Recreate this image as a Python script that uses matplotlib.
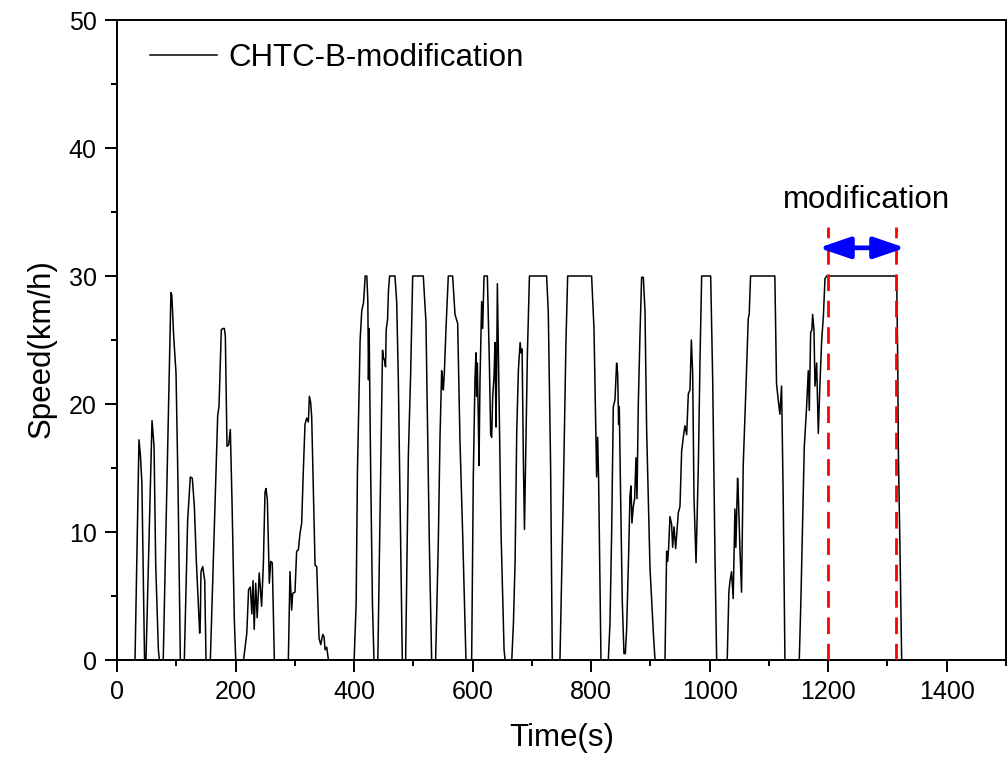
import matplotlib
matplotlib.use("Agg")
import matplotlib.pyplot as plt
from matplotlib.ticker import MultipleLocator

plt.rcParams['font.family'] = ['Liberation Sans', 'DejaVu Sans']

# ---- data ----
time_s = [
    0, 30.4, 37.1, 39.5, 42, 46.5,
    48.9, 59.1, 62.5, 65.3, 69.8, 71.5,
    78, 91, 92.5, 95.6, 99.6, 103, 106.9,
    113.6, 119.2, 123.7, 127.1, 130.5, 133.8, 137.8, 139.5, 140.6, 141.7, 144.6, 148, 150.2,
    157.5, 164.2, 169.9, 172.1, 176, 178.8, 181.1, 182.8, 185.6, 188.4, 191.2, 194.1, 198, 200.3,
    213.6, 219, 222, 225, 227.5, 229.5, 231.5, 234, 236.5, 240, 244, 247, 249.7, 251.4, 253.7, 257, 259.3, 262, 265.5,
    289.1, 291.9, 294.7, 296.4, 300.3, 303.1, 306, 308.8, 311.6, 314.4, 317.2, 320.1, 322.9, 324.6, 326.8, 328.5,
    334.2, 337, 340.9, 343.8, 347.1, 349.4, 351.1, 353.9, 356.7,
    400.1, 403.5, 405.7, 410.2, 413, 415.9, 417.5, 418.7, 421.5, 423.2, 424.3, 425.4, 428, 431, 433.6,
    440.1, 444.1, 448, 449.7, 451.4, 453.1, 454.2, 456.5, 458.1, 460, 469, 471.9, 474.7, 478, 481.4,
    487, 491.6, 495.5, 498.9, 516.8, 521.3, 526.9, 530.9,
    537.6, 542.1, 545, 547.8, 549.4, 550.6, 552.3, 555.1, 559, 566.3, 570.3, 574.8, 578.7, 583.2, 588.8,
    598.4, 601.2, 604, 605.7, 606.8, 608, 609.7, 610.8, 612.5, 615.3, 617, 619.3, 624.9, 628.3, 630.5,
    632.2, 633.9, 636.2, 637.8, 639.5, 640.7, 641.8, 648, 653.1, 654.8,
    666.1, 668.9, 671.7, 674.5, 677.3, 680.2, 681.8, 683.5, 685.8, 687.5, 690.3, 692.5, 695.9, 724.9, 727.7, 731.6, 734.5,
    747.4, 750.2, 753, 757.5, 760.4, 800.8, 804.8, 808.1, 809.3, 811, 812.6, 814.9, 816.6,
    829, 831.8, 834.6, 837.4, 840.2, 843, 844.7, 846.4, 847.5, 849.8, 852.6, 855.4, 857.7, 859.9, 863.3, 865.5,
    867.2, 868.9, 871.2, 873.4, 875.7, 877.4, 879.6, 882.4, 885.2, 888.1, 890.9, 893.7, 899.3, 905, 907.8,
    924.6, 927.4, 929.1, 930.8, 933, 935.8, 937.5, 939.8, 942.6, 947.1, 949.9, 952.7, 955.5, 958.3, 961.2, 964,
    966.8, 969.1, 971.3, 973.6, 977, 980.9, 983.7, 986.5, 1001.7, 1005.1, 1009, 1011.8,
    1029.6, 1032.4, 1034.1, 1036.9, 1039.7, 1042.6, 1044.2, 1047.1, 1048.2, 1051, 1053.8, 1056.6, 1061.1, 1065.1,
    1066.7, 1069, 1110, 1112.8, 1115.7, 1118.5, 1121.3, 1124.1, 1127,
    1151.2, 1154, 1156.8, 1159.6, 1163.6, 1166.4, 1168.1, 1170.4, 1172.5, 1173.7, 1176, 1177.7, 1180.5, 1183.3,
    1186.1, 1189, 1191.8, 1194.6, 1197.4, 1315.5, 1317.2, 1318.4, 1321.2, 1324,
]
speed_kmh = [
    0, 0, 17.2, 16.0, 13.8, 0,
    0, 18.7, 16.7, 7.5, 0.8, 0,
    0, 28.7, 28.5, 25.3, 22.4, 13.5, 0,
    0, 10.9, 14.3, 14.2, 12.0, 7.8, 3.8, 2.1, 3.1, 6.9, 7.3, 6.2, 0,
    0, 10.4, 19.1, 19.8, 25.8, 25.9, 25.9, 25.3, 16.7, 16.8, 18.0, 12.3, 3.1, 0,
    0, 2.1, 5.5, 5.7, 3.6, 6.2, 2.4, 6.0, 3.3, 6.8, 4.2, 7.6, 13.1, 13.4, 12.5, 6.0, 7.7, 7.6, 0,
    0, 6.9, 3.9, 5.2, 5.3, 8.5, 8.6, 9.9, 10.7, 14.8, 18.4, 18.9, 18.6, 20.6, 20.1, 19.0,
    7.4, 7.3, 1.7, 1.2, 2.0, 1.8, 0.8, 1.0, 0,
    0, 4.4, 14.7, 25.0, 27.3, 27.9, 29.0, 30, 30, 28.1, 21.9, 25.9, 14.8, 4.4, 0,
    0, 12.3, 24.2, 23.6, 23.4, 22.9, 25.8, 26.6, 28.9, 30, 30, 28.0, 21.9, 11.0, 0,
    0, 16.0, 22.4, 30, 30, 26.4, 9.4, 0,
    0, 9.1, 17.4, 22.6, 21.9, 21.1, 22.4, 25.9, 30, 30, 27.0, 26.3, 17.1, 9.9, 0,
    0, 14.4, 21.9, 24.0, 20.6, 23.2, 18.7, 15.2, 21.9, 28.0, 25.9, 30, 30, 23.2, 17.6,
    17.4, 20.6, 22.2, 24.8, 18.2, 23.2, 29.4, 9.9, 0.8, 0,
    0, 2.9, 7.7, 17.9, 22.7, 24.8, 24.0, 24.3, 15.2, 10.2, 17.9, 24.0, 30, 30, 27.2, 15.2, 0,
    0, 6.4, 12.8, 24.8, 30, 30, 25.9, 17.4, 14.3, 17.4, 14.2, 5.9, 0,
    0, 2.9, 9.9, 19.8, 20.3, 23.2, 22.4, 18.4, 19.8, 12.6, 4.5, 0.5, 0.5, 2.4, 8.3, 12.8,
    13.6, 10.7, 12.0, 12.6, 15.8, 12.6, 20.0, 25.4, 29.9, 29.9, 27.2, 17.9, 7.2, 2.1, 0,
    0, 8.5, 7.7, 8.8, 11.2, 10.6, 8.8, 10.4, 8.7, 11.5, 12.0, 16.3, 17.4, 18.3, 17.6, 20.8,
    21.1, 25.0, 22.4, 12.6, 7.6, 15.2, 23.5, 30, 30, 21.9, 8.0, 0,
    0, 5.3, 6.1, 6.9, 4.8, 11.8, 8.8, 14.2, 13.1, 8.8, 5.3, 15.2, 21.1, 26.7,
    27.0, 30, 30, 21.6, 20.3, 19.2, 21.4, 12.6, 0,
    0, 4.8, 10.7, 16.6, 19.8, 22.6, 19.5, 25.6, 25.8, 27.0, 25.8, 21.4, 23.2, 17.7,
    21.6, 25.0, 26.8, 29.8, 30, 30, 23.9, 16.2, 8.4, 0,
]

series_label = "CHTC-B-modification"
mod_bounds = [1200, 1315]          # red dashed markers
arrow_span = [1184, 1330]           # blue double arrow
arrow_level = 32.2
mod_text = "modification"
x_label = "Time(s)"
y_label = "Speed(km/h)"

# ---- figure ----
fig = plt.figure(figsize=(10.07, 7.59), dpi=100)
ax = fig.add_axes([117 / 1007, 99 / 759, 889 / 1007, 640 / 759])

ax.plot(time_s, speed_kmh, color='black', lw=1.1, label=series_label, zorder=3)

for xb in mod_bounds:
    ax.plot([xb, xb], [0, 33.8], color='#ff0000', lw=2.0, ls=(0, (6, 3.5)), zorder=4)

ax.annotate('', xy=(arrow_span[0], arrow_level), xytext=(arrow_span[1], arrow_level),
            arrowprops=dict(arrowstyle='<|-|>,head_length=1.9,head_width=0.65',
                            color='#0000ff', lw=3.4, mutation_scale=10,
                            shrinkA=0, shrinkB=0), zorder=5)
ax.text(1264, 35.9, mod_text, fontsize=22.5, ha='center', va='center')

ax.set_xlim(0, 1500)
ax.set_ylim(0, 50)
ax.xaxis.set_major_locator(MultipleLocator(200))
ax.xaxis.set_minor_locator(MultipleLocator(100))
ax.yaxis.set_major_locator(MultipleLocator(10))
ax.yaxis.set_minor_locator(MultipleLocator(5))
ax.tick_params(which='both', direction='out', top=False, right=False, width=1.4)
ax.tick_params(which='major', length=8.5, labelsize=18, pad=6)
ax.tick_params(which='minor', length=4.5)
for sp in ax.spines.values():
    sp.set_linewidth(1.4)

ax.set_xlabel(x_label, fontsize=22.5)
ax.set_ylabel(y_label, fontsize=22.5)
ax.xaxis.set_label_coords(0.5, -0.098)
ax.yaxis.set_label_coords(-0.068, 0.486)

ax.legend(loc='center left', bbox_to_anchor=(0.037, 0.941), frameon=False, fontsize=22.5,
          handlelength=2.15, handletextpad=0.35, borderpad=0, borderaxespad=0)

fig.savefig('out.png', dpi=100)
